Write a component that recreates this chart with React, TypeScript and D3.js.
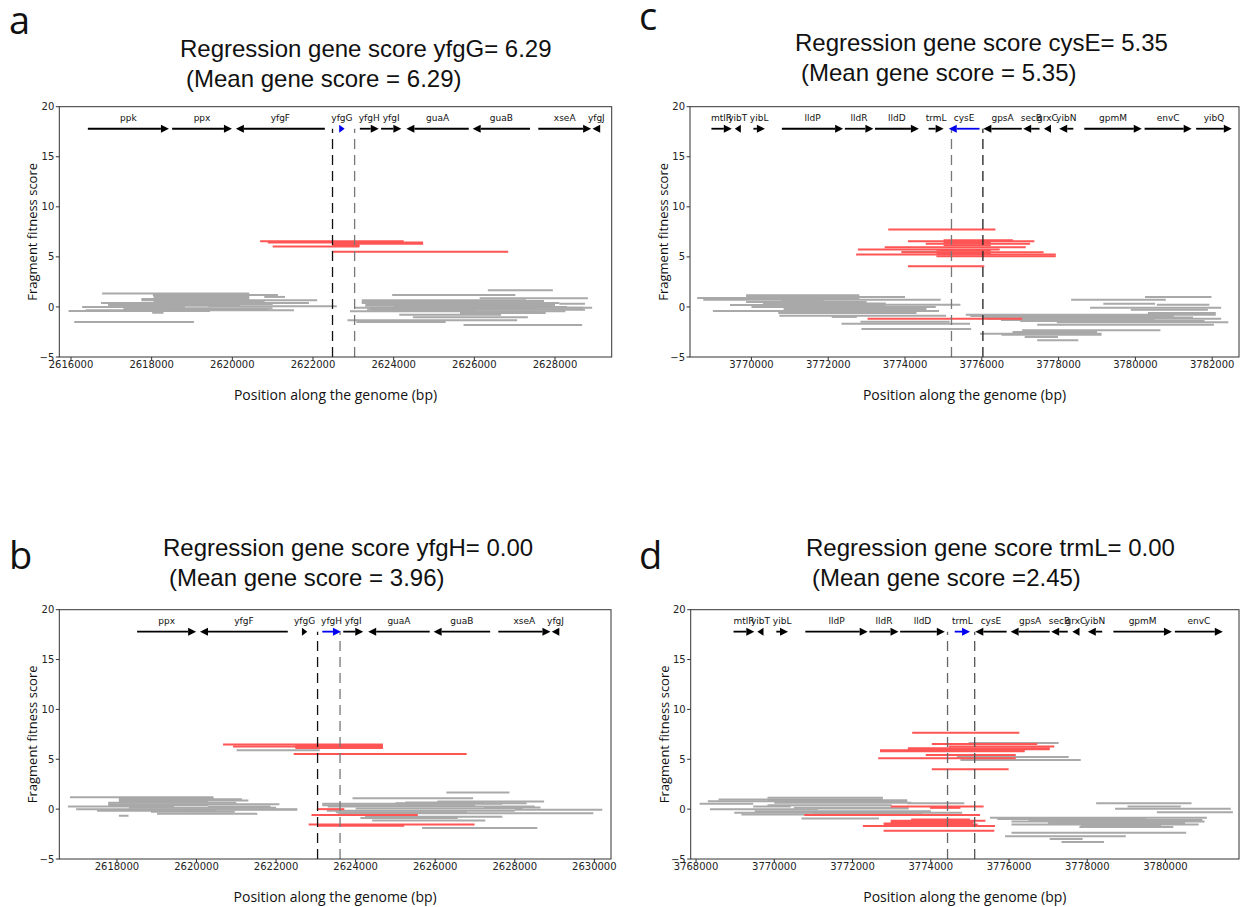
import React from "react";
import * as d3 from "d3";

type Frag = [number, number, number];
type Gene = [string, number, number, number];

// ---------- genes (name, start, end, strand) ----------
const genesAB: Gene[] = [
  ["ppk", 2616418, 2618428, 1],
  ["ppx", 2618507, 2619990, 1],
  ["yfgF", 2620088, 2622294, -1],
  ["yfgG", 2622650, 2622784, 1],
  ["yfgH", 2623162, 2623630, 1],
  ["yfgI", 2623688, 2624192, 1],
  ["guaA", 2624316, 2625862, -1],
  ["guaB", 2625960, 2627381, -1],
  ["xseA", 2627586, 2628896, 1],
  ["yfgJ", 2628930, 2629120, -1],
];
const genesCD: Gene[] = [
  ["mtlR", 3768958, 3769489, 1],
  ["yibT", 3769567, 3769724, -1],
  ["yibL", 3770051, 3770350, 1],
  ["lldP", 3770793, 3772388, 1],
  ["lldR", 3772433, 3773175, 1],
  ["lldD", 3773217, 3774360, 1],
  ["trmL", 3774613, 3775005, 1],
  ["cysE", 3775139, 3775940, -1],
  ["gpsA", 3776041, 3777041, -1],
  ["secB", 3777078, 3777503, -1],
  ["grxC", 3777618, 3777802, -1],
  ["yibN", 3778015, 3778383, -1],
  ["gpmM", 3778668, 3780166, 1],
  ["envC", 3780240, 3781466, 1],
  ["yibQ", 3781581, 3782511, 1],
];

// ---------- panel a ----------
const domainA = [2615710, 2629406];
const ticksA = [2616000, 2618000, 2620000, 2622000, 2624000, 2626000, 2628000];
const dashA = [2622484, 2623032];
const redA: Frag[] = [
  [2620690, 2624250, 6.57], [2620880, 2624730, 6.43], [2622475, 2624730, 6.32],
  [2622475, 2623150, 6.25], [2622475, 2623150, 6.2], [2622475, 2623150, 6.12],
  [2621000, 2623150, 6.03], [2622475, 2626840, 5.5],
];
const grayA: Frag[] = [
  [2616772, 2620420, 1.33], [2618029, 2621129, 1.2], [2618047, 2620420, 1.07],
  [2620792, 2621306, 1.0], [2618047, 2620420, 0.93], [2617746, 2620420, 0.8],
  [2617746, 2622103, 0.67], [2618047, 2620800, 0.53], [2616745, 2621899, 0.4],
  [2616922, 2621000, 0.3], [2616922, 2619402, 0.2], [2618300, 2620200, 0.13],
  [2619402, 2622590, 0.07], [2616276, 2618826, 0.0], [2618826, 2620996, -0.13],
  [2617300, 2620900, -0.2], [2616365, 2621527, -0.33], [2615940, 2619446, -0.4],
  [2618012, 2618295, -0.57], [2616081, 2619048, -1.5],
  [2626335, 2627947, 1.67], [2623962, 2627017, 1.2], [2626132, 2628815, 0.87],
  [2623209, 2627283, 0.67], [2627283, 2627726, 0.6], [2623209, 2627283, 0.53],
  [2623209, 2628106, 0.4], [2628106, 2628744, 0.33], [2623300, 2628000, 0.2],
  [2623298, 2626530, 0.13], [2626530, 2627194, 0.03], [2624000, 2628300, 0.0],
  [2623032, 2628700, -0.07], [2627486, 2628921, -0.07], [2623400, 2627500, -0.17],
  [2623342, 2628744, -0.27], [2623500, 2626000, -0.35], [2622917, 2628257, -0.43],
  [2625645, 2627770, -0.6], [2624139, 2626663, -0.77], [2624476, 2627327, -1.03],
  [2622855, 2627061, -1.33], [2623077, 2625290, -1.5], [2625733, 2628673, -1.8],
];

// ---------- panel b ----------
const domainB = [2616551, 2630419];
const ticksB = [2618000, 2620000, 2622000, 2624000, 2626000, 2628000, 2630000];
const dashB = [2623043, 2623608];
const redB: Frag[] = [
  [2620667, 2624684, 6.47], [2622487, 2624684, 6.35], [2620918, 2624684, 6.27],
  [2622487, 2624684, 6.2], [2622487, 2624684, 6.13], [2622442, 2626791, 5.53],
  [2623025, 2623716, 0.0], [2622891, 2625563, -0.6], [2622819, 2626989, -1.53],
  [2623043, 2625222, -1.67],
];
const grayB: Frag[] = [
  [2621008, 2623097, 5.9],
  [2616820, 2620425, 1.2], [2618049, 2620425, 1.1], [2618049, 2621142, 1.0],
  [2618049, 2621304, 0.87], [2618049, 2620290, 0.75], [2617780, 2621000, 0.63],
  [2617780, 2622084, 0.5], [2617780, 2620290, 0.4], [2620290, 2621860, 0.27],
  [2616766, 2619438, 0.27], [2618300, 2622000, 0.13], [2616973, 2622532, 0.0],
  [2619797, 2622532, -0.07], [2617500, 2620500, -0.17], [2618856, 2620963, -0.27],
  [2619008, 2620963, -0.47], [2620963, 2621528, -0.47], [2618049, 2618291, -0.67],
  [2626280, 2627867, 1.67], [2623922, 2626953, 1.1], [2626056, 2628737, 0.77],
  [2625249, 2627222, 0.67], [2625000, 2628300, 0.6], [2623160, 2627688, 0.53],
  [2623160, 2627000, 0.4], [2623300, 2628500, 0.27], [2627222, 2628648, 0.17],
  [2624000, 2628200, 0.07], [2628002, 2630199, -0.07], [2623276, 2628002, -0.17],
  [2623500, 2626800, -0.3], [2623563, 2629975, -0.4], [2624236, 2627688, -0.77],
  [2624119, 2626567, -0.9], [2624415, 2627258, -1.13], [2625670, 2628567, -1.9],
];

// ---------- panel c ----------
const domainC = [3768400, 3782698];
const ticksC = [3770000, 3772000, 3774000, 3776000, 3778000, 3780000, 3782000];
const dashC = [3775210, 3776028];
const redC: Frag[] = [
  [3773563, 3776354, 7.73], [3775005, 3776809, 6.67], [3774075, 3777368, 6.57],
  [3775005, 3776233, 6.45], [3774540, 3777256, 6.3], [3775005, 3776233, 6.15],
  [3773470, 3777144, 5.97], [3772772, 3776465, 5.73], [3774819, 3776233, 5.6],
  [3773907, 3777609, 5.47], [3774819, 3776233, 5.35], [3772726, 3777926, 5.23],
  [3774819, 3777926, 5.07], [3774075, 3776065, 4.07], [3773024, 3777051, -1.17],
];
const grayC: Frag[] = [
  [3773907, 3774837, 5.5],
  [3769861, 3772810, 1.17], [3769861, 3774000, 1.0], [3768587, 3772810, 0.9],
  [3768745, 3774930, 0.73], [3770763, 3771879, 0.67], [3769861, 3773000, 0.5],
  [3770300, 3773500, 0.35], [3772465, 3775442, 0.23], [3769442, 3773489, 0.2],
  [3770000, 3774800, 0.0], [3770838, 3771163, -0.03], [3770838, 3774558, -0.2],
  [3771500, 3774500, -0.3], [3768996, 3774884, -0.4], [3770700, 3774300, -0.6],
  [3770726, 3775070, -0.87], [3772093, 3772744, -1.0], [3772838, 3775163, -1.47],
  [3772345, 3775693, -1.67], [3772865, 3775721, -2.2],
  [3780251, 3781981, 1.0], [3778326, 3780791, 0.73], [3779163, 3780512, 0.33],
  [3780558, 3781926, 0.23], [3778819, 3782233, -0.07], [3779879, 3781888, -0.27],
  [3780326, 3782093, -0.6], [3775582, 3782093, -0.77], [3775700, 3781000, -0.9],
  [3776000, 3781500, -1.05], [3776140, 3782233, -1.17], [3776500, 3780500, -1.3],
  [3777000, 3781800, -1.4], [3777954, 3782419, -1.53], [3777442, 3782046, -1.77],
  [3777051, 3780651, -2.33], [3776800, 3779000, -2.5], [3775954, 3779116, -2.67],
  [3776512, 3779116, -2.77], [3777116, 3777982, -3.0], [3777442, 3778512, -3.33],
];

// ---------- panel d ----------
const domainD = [3767863, 3781880];
const ticksD = [3768000, 3770000, 3772000, 3774000, 3776000, 3778000, 3780000];
const dashD = [3774429, 3775123];
const redD: Frag[] = [
  [3773525, 3776264, 7.67], [3774027, 3776721, 6.53], [3774456, 3777159, 6.27],
  [3773415, 3777041, 6.1], [3773415, 3777041, 6.0], [3772703, 3776401, 5.9],
  [3772703, 3776401, 5.8], [3773872, 3776173, 5.43], [3772657, 3776173, 5.1],
  [3774027, 3775990, 4.0], [3772977, 3775351, 0.27], [3773981, 3774758, 0.13],
  [3770767, 3775260, -0.6], [3773500, 3775000, -1.05], [3772977, 3775397, -1.17],
  [3772977, 3775100, -1.3], [3772794, 3775077, -1.43], [3772800, 3775200, -1.55],
  [3772265, 3775643, -1.7], [3772794, 3775625, -2.17],
];
const grayD: Frag[] = [
  [3774968, 3777269, 6.63], [3774666, 3777525, 5.23], [3774758, 3777835, 4.93],
  [3769826, 3772776, 1.13], [3768575, 3772776, 0.97], [3769826, 3773400, 0.9],
  [3768301, 3773397, 0.8], [3770000, 3773500, 0.65], [3773397, 3774858, 0.6],
  [3768091, 3769461, 0.53], [3769826, 3773000, 0.4], [3769461, 3770420, 0.27],
  [3770500, 3773433, 0.15], [3771114, 3773433, 0.07], [3768356, 3771114, 0.0],
  [3769500, 3774000, -0.2], [3768977, 3774803, -0.37], [3771000, 3773800, -0.45],
  [3769160, 3773525, -0.53], [3770694, 3772676, -0.93],
  [3778228, 3780666, 0.6], [3779031, 3780392, 0.27], [3778712, 3781671, 0.03],
  [3779780, 3781725, -0.3], [3775516, 3781059, -0.87], [3775700, 3779500, -1.0],
  [3778529, 3780940, -1.1], [3776500, 3779900, -1.2], [3776063, 3781000, -1.25],
  [3777000, 3780500, -1.4], [3776063, 3780849, -1.53], [3777835, 3779890, -1.67],
  [3777800, 3780200, -1.8], [3776063, 3780529, -2.37], [3775899, 3778986, -2.73],
  [3777041, 3777881, -3.0], [3777342, 3778429, -3.3],
];

const yTicks = [-5, 0, 5, 10, 15, 20];
const yDomain = [-5, 20];
const geneRowY = 17.8;
const dashRange = [-5, 17.8];

const GRAY = "#a9a9a9";
const RED = "#ff5555";

type Box = { l: number; r: number; t: number; b: number };

function Panel(props: {
  box: Box; domain: number[]; ticks: number[]; genes: Gene[]; target: string;
  dash: number[]; dashColors: string[]; gray: Frag[]; red: Frag[];
  title1: string; title2: string; tx: number; ty: number;
  letter: string; lx: number; ly: number;
}) {
  const { box, domain, ticks, genes, target, dash, dashColors, gray, red } = props;
  const x = d3.scaleLinear().domain(domain).range([box.l, box.r]);
  const y = d3.scaleLinear().domain(yDomain).range([box.b, box.t]);
  const visGenes = genes.filter((g) => g[1] >= domain[0] && g[2] <= domain[1]);
  const gy = y(geneRowY);
  const tickFont = "DejaVu Sans, sans-serif";
  return (
    <g>
      <text x={props.lx} y={props.ly} fontFamily="Open Sans, sans-serif" fontSize={38} fill="#111">{props.letter}</text>
      <text x={props.tx} y={props.ty} fontFamily="Liberation Sans, Arial, sans-serif" fontSize={24} fill="#111">{props.title1}</text>
      <text x={props.tx + 6} y={props.ty + 30} fontFamily="Liberation Sans, Arial, sans-serif" fontSize={24} fill="#111">{props.title2}</text>
      <defs>
        <clipPath id={"clip" + props.letter}>
          <rect x={box.l} y={box.t} width={box.r - box.l} height={box.b - box.t} />
        </clipPath>
      </defs>
      <g clipPath={`url(#clip${props.letter})`}>
        {gray.map((f, i) => (
          <line key={"g" + i} x1={x(f[0])} x2={x(f[1])} y1={y(f[2])} y2={y(f[2])} stroke={GRAY} strokeWidth={2} />
        ))}
        {red.map((f, i) => (
          <line key={"r" + i} x1={x(f[0])} x2={x(f[1])} y1={y(f[2])} y2={y(f[2])} stroke={RED} strokeWidth={2} />
        ))}
      </g>
      {dash.map((d, i) => (
        <line key={"d" + i} x1={x(d)} x2={x(d)} y1={y(dashRange[0])} y2={y(dashRange[1])} stroke={dashColors[i]} strokeWidth={1.3} strokeDasharray="10,6" />
      ))}
      {visGenes.map((g, i) => {
        const x0 = x(g[1]), x1 = x(g[2]);
        const col = g[0] === target ? "#0000ee" : "#000";
        const hl = Math.min(8, x1 - x0);
        const hw = 4;
        let tip: number, base: number, la: number, lb: number;
        if (g[3] > 0) { tip = x1; base = x1 - hl; la = x0; lb = base; }
        else { tip = x0; base = x0 + hl; la = base; lb = x1; }
        return (
          <g key={"gene" + i}>
            {lb > la && <line x1={la} x2={lb} y1={gy} y2={gy} stroke={col} strokeWidth={1.8} />}
            <polygon points={`${tip},${gy} ${base},${gy - hw} ${base},${gy + hw}`} fill={col} />
            <text x={(x0 + x1) / 2} y={gy - 8} textAnchor="middle" fontFamily={tickFont} fontSize={9} fill="#111">{g[0]}</text>
          </g>
        );
      })}
      <rect x={box.l} y={box.t} width={box.r - box.l} height={box.b - box.t} fill="none" stroke="#333" strokeWidth={1} />
      {ticks.map((t) => (
        <g key={"xt" + t}>
          <line x1={x(t)} x2={x(t)} y1={box.b} y2={box.b + 3.5} stroke="#333" />
          <text x={x(t)} y={box.b + 11} textAnchor="middle" fontFamily={tickFont} fontSize={10} fill="#222">{t}</text>
        </g>
      ))}
      {yTicks.map((t) => (
        <g key={"yt" + t}>
          <line x1={box.l - 3.5} x2={box.l} y1={y(t)} y2={y(t)} stroke="#333" />
          <text x={box.l - 5} y={y(t) + 3.6} textAnchor="end" fontFamily={tickFont} fontSize={10} fill="#222">{t < 0 ? "\u2212" + Math.abs(t) : t}</text>
        </g>
      ))}
      <text x={(box.l + box.r) / 2} y={box.b + 43} textAnchor="middle" fontFamily="Open Sans, sans-serif" fontSize={14} fill="#111">Position along the genome (bp)</text>
      <text transform={`translate(${box.l - 22},${(box.t + box.b) / 2}) rotate(-90)`} textAnchor="middle" fontFamily="Open Sans, sans-serif" fontSize={13} fill="#111">Fragment fitness score</text>
    </g>
  );
}

export default function App() {
  return (
    <svg width={1243} height={907} style={{ position: "absolute", left: 0, top: 0, background: "#fff" }}>
      <rect width={1243} height={907} fill="#fff" />
      <Panel box={{ l: 59.3, r: 611.7, t: 106.7, b: 357 }} domain={domainA} ticks={ticksA} genes={genesAB} target="yfgG"
        dash={dashA} dashColors={["#111", "#777"]} gray={grayA} red={redA}
        title1="Regression gene score yfgG= 6.29" title2="(Mean gene score = 6.29)" tx={180} ty={57}
        letter="a" lx={9} ly={34} />
      <Panel box={{ l: 59.3, r: 611, t: 609.7, b: 859 }} domain={domainB} ticks={ticksB} genes={genesAB} target="yfgH"
        dash={dashB} dashColors={["#111", "#777"]} gray={grayB} red={redB}
        title1="Regression gene score yfgH= 0.00" title2="(Mean gene score = 3.96)" tx={163} ty={556}
        letter="b" lx={9} ly={569} />
      <Panel box={{ l: 690, r: 1239, t: 106.7, b: 357 }} domain={domainC} ticks={ticksC} genes={genesCD} target="cysE"
        dash={dashC} dashColors={["#777", "#222"]} gray={grayC} red={redC}
        title1="Regression gene score cysE= 5.35" title2="(Mean gene score = 5.35)" tx={795} ty={51}
        letter="c" lx={639} ly={30} />
      <Panel box={{ l: 690.7, r: 1239, t: 609.7, b: 859 }} domain={domainD} ticks={ticksD} genes={genesCD} target="trmL"
        dash={dashD} dashColors={["#666", "#555"]} gray={grayD} red={redD}
        title1="Regression gene score trmL= 0.00" title2="(Mean gene score =2.45)" tx={806} ty={556}
        letter="d" lx={639} ly={569} />
    </svg>
  );
}
